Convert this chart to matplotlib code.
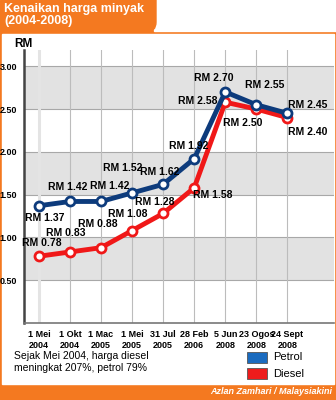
import matplotlib.pyplot as plt
from matplotlib.patches import Rectangle, FancyBboxPatch

plt.rcParams["font.family"] = ["Liberation Sans", "DejaVu Sans"]

# -------------------------------
# Data
# -------------------------------
dates = ["1 Mei\n2004", "1 Okt\n2004", "1 Mac\n2005", "1 Mei\n2005", "31 Jul\n2005",
         "28 Feb\n2006", "5 Jun\n2008", "23 Ogos\n2008", "24 Sept\n2008"]
petrol = [1.37, 1.42, 1.42, 1.52, 1.62, 1.92, 2.70, 2.55, 2.45]
diesel = [0.78, 0.83, 0.88, 1.08, 1.28, 1.58, 2.58, 2.50, 2.40]

# label offsets in pixels (dx, dy)
petrol_off = [(6, -12), (-2, 14), (9, 15), (-9, 25), (-3, 12), (-6, 13), (-12, 14), (8, 20), (20, 8)]
diesel_off = [(3, 13), (-4, 19), (-3, 24), (-4, 17), (-8, 11), (19, -7), (-28, 1), (-14, -14), (20, -14)]

ORANGE = "#f47920"
NAVY = "#0d3b7c"
RED = "#f01818"

W, H = 336, 400
fig = plt.figure(figsize=(W / 100, H / 100), dpi=100)
fig.patch.set_facecolor("white")

# -------------------------------
# Frame and title tab
# -------------------------------
bg = fig.add_axes([0, 0, 1, 1])
bg.set_xlim(0, W)
bg.set_ylim(H, 0)
bg.axis("off")
bg.add_patch(Rectangle((0, 0), W, H, color=ORANGE, zorder=0))
bg.add_patch(Rectangle((2, 34), W - 4, 350, color="white", zorder=1))
bg.add_patch(Rectangle((154, -2), W, 33, color="white", zorder=1))
bg.add_patch(FancyBboxPatch((120, -20), 36, 52, boxstyle="round,pad=0,rounding_size=10",
                            color=ORANGE, zorder=2))
bg.text(4, 3, "Kenaikan harga minyak\n(2004-2008)", color="white", fontsize=9,
        fontweight="bold", va="top", ha="left", linespacing=1.05, zorder=3)
bg.text(332, 392, "Azlan Zamhari / Malaysiakini", color="white", fontsize=6.5,
        fontweight="bold", style="italic", ha="right", va="center", zorder=3)
bg.text(14, 44, "RM", fontsize=8.5, fontweight="bold", va="center", ha="left", zorder=3)
bg.text(14, 362, "Sejak Mei 2004, harga diesel\nmeningkat 207%, petrol 79%",
        fontsize=7.5, va="center", ha="left", linespacing=1.25, zorder=3)
bg.add_patch(Rectangle((247, 352), 20, 11, facecolor="#1a6bbf", edgecolor="#555", lw=0.6, zorder=3))
bg.add_patch(Rectangle((247, 368), 20, 11, facecolor="#ee1c1c", edgecolor="#555", lw=0.6, zorder=3))
bg.text(273, 357, "Petrol", fontsize=8, va="center", ha="left", zorder=3)
bg.text(273, 374, "Diesel", fontsize=8, va="center", ha="left", zorder=3)

# -------------------------------
# Chart
# -------------------------------
ax = fig.add_axes([24 / W, 1 - 323 / H, 310 / W, 273 / H])
ax.set_facecolor("white")
ax.set_xlim(-0.48, len(dates) + 0.5)
ax.set_ylim(0, 3.19)

# shaded bands every other half ringgit
for lo in [0.5, 1.5, 2.5]:
    ax.add_patch(Rectangle((-0.48, lo), len(dates) + 1, 0.5, facecolor="#e2e2e2",
                           edgecolor="none", zorder=0))
for y in [0.5, 1.0, 1.5, 2.0, 2.5, 3.0]:
    ax.axhline(y, color="#a8a8a8", lw=0.8, zorder=1)
ax.axvline(0, color="#e4e4e4", lw=2.2, zorder=1)
for i in range(1, len(dates)):
    ax.axvline(i, color="#bcbcbc", lw=0.8, zorder=1)

x = range(len(dates))
ax.plot(x, diesel, color=RED, lw=3.5, marker="o", ms=6.5, mfc="white", mec=RED,
        mew=2, zorder=3)
ax.plot(x, petrol, color=NAVY, lw=3.5, marker="o", ms=6.5, mfc="white", mec=NAVY,
        mew=2, zorder=4)

for i, v in enumerate(petrol):
    ax.annotate("RM %.2f" % v, (i, v), xytext=petrol_off[i], textcoords="offset pixels",
                ha="center", va="center", fontsize=7.5, fontweight="bold", zorder=5)
for i, v in enumerate(diesel):
    ax.annotate("RM %.2f" % v, (i, v), xytext=diesel_off[i], textcoords="offset pixels",
                ha="center", va="center", fontsize=7.5, fontweight="bold", zorder=5)

ax.set_xticks(list(x))
ax.set_xticklabels(dates, fontsize=6.5, fontweight="bold", linespacing=1.3)
ax.set_yticks([0.5, 1.0, 1.5, 2.0, 2.5, 3.0])
ax.set_yticklabels(["0.50", "1.00", "1.50", "2.00", "2.50", "3.00"], fontsize=6.5,
                   fontweight="bold")
ax.tick_params(length=0, pad=5)
for s in ["top", "right"]:
    ax.spines[s].set_visible(False)
ax.spines["left"].set_color("#444444")
ax.spines["left"].set_linewidth(1.8)
ax.spines["bottom"].set_color("#777777")
ax.spines["bottom"].set_linewidth(1.2)

plt.savefig("out.png", dpi=100)
